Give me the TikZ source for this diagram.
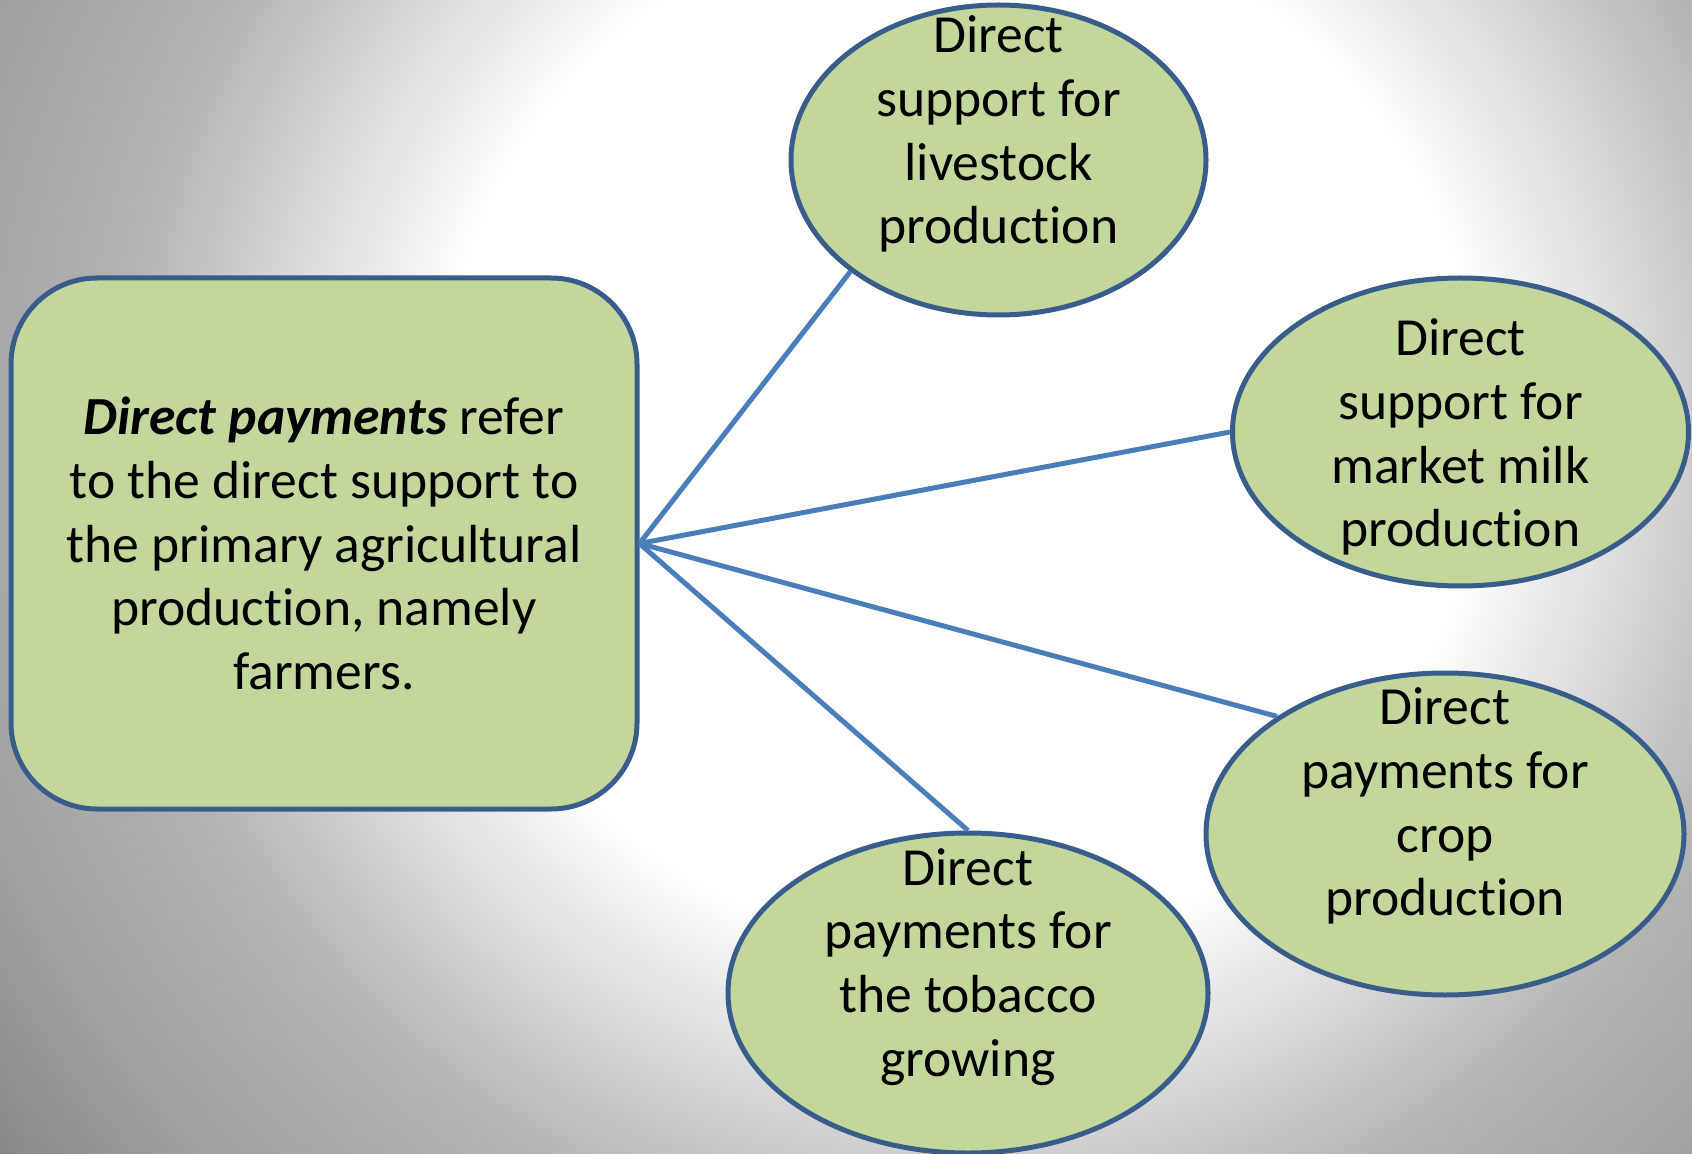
\documentclass[tikz,border=0pt]{standalone}
\usepackage{fontspec}
\setmainfont{Carlito}[Ligatures={NoCommon,NoContextual},RawFeature={-liga;-clig;-dlig;-calt}]
\usetikzlibrary{shapes.geometric}
\definecolor{boxfill}{HTML}{C3D69B}
\definecolor{boxline}{HTML}{385D8A}
\definecolor{linkline}{HTML}{4A7EBB}
\pgfdeclareradialshading{backshade}{\pgfpoint{0bp}{0bp}}{color(0bp)=(white); color(258bp)=(white); color(421bp)=(black!30); color(521bp)=(black!37); color(600bp)=(black!47); color(610bp)=(black!47)}
\begin{document}
\begin{tikzpicture}[x=0.5pt,y=-0.5pt,
	every node/.style={font=\fontsize{26.8}{31.9}\selectfont},
	mainbox/.style={draw=boxline,line width=2.5pt,fill=boxfill,rounded corners=43pt,
		minimum width=313pt,minimum height=265.5pt,align=center,inner sep=0pt},
	bubble/.style={ellipse,draw=boxline,line width=2.5pt,fill=boxfill,inner sep=0pt},
	bubbletext/.style={align=center,inner sep=0pt},
	link/.style={draw=linkline,line width=2.5pt}]
				% Background
				\useasboundingbox (0,0) rectangle (1692,1154);
				\begin{scope}
					\clip (0,0) rectangle (1692,1154);
					\node[inner sep=0pt] (shade) at (960,430) {\pgfuseshading{backshade}};
				\end{scope}
				% Main box
				\node[mainbox] (direct) at (324,543.5) {\textbf{\textit{Direct payments}} refer\\to the direct support to\\the primary agricultural\\production, namely\\farmers.};
				% Bubbles
				\node[bubble,minimum width=207.5pt,minimum height=155pt] (livestock) at (998.5,160) {};
				\node[bubble,minimum width=228pt,minimum height=154pt] (milk) at (1460.5,432) {};
				\node[bubble,minimum width=239pt,minimum height=161pt] (crop) at (1445,834) {};
				\node[bubble,minimum width=240pt,minimum height=160pt] (tobacco) at (968,993) {};
				% Bubble texts
				\node[bubbletext] (livestocktext) at ([yshift=13pt]livestock) {Direct\\support for\\livestock\\production};
				\node[bubbletext] (milktext) at ([yshift=-2.5pt]milk) {Direct\\support for\\market milk\\production};
				\node[bubbletext] (croptext) at ([yshift=14pt]crop) {Direct\\payments for\\crop\\production};
				\node[bubbletext] (tobaccotext) at ([yshift=13pt]tobacco) {Direct\\payments for\\the tobacco\\growing};
				% Links
				\draw[link] (direct.east) -- (livestock.217);
				\draw[link] (direct.east) -- (milk.west);
				\draw[link] (direct.east) -- (crop.145);
				\draw[link] (direct.east) -- (tobacco.north);
			\end{tikzpicture}
\end{document}
